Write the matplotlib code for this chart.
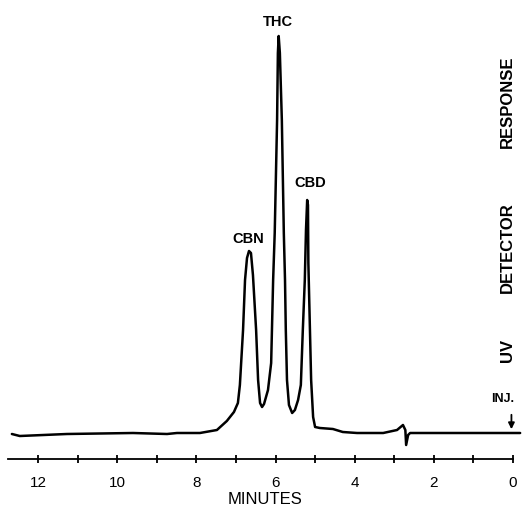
import matplotlib
matplotlib.use("Agg")
import matplotlib.pyplot as plt

# Retention time (minutes) and UV detector response (arbitrary units)
minutes = [12.66, 12.46, 11.27, 9.60, 8.74, 8.49, 7.91, 7.48, 7.23, 7.05, 6.95, 6.90,
           6.82, 6.77, 6.72, 6.67, 6.62, 6.57, 6.49, 6.44, 6.39, 6.34, 6.29, 6.19,
           6.11, 6.09, 6.06, 6.02, 5.96, 5.94, 5.92, 5.89, 5.84, 5.79, 5.76, 5.74,
           5.71, 5.66, 5.58, 5.51, 5.43, 5.36, 5.31, 5.26, 5.23, 5.20, 5.18, 5.17,
           5.13, 5.10, 5.05, 5.00, 4.88, 4.55, 4.30, 3.94, 3.28, 2.93, 2.78, 2.72,
           2.70, 2.65, 2.60, 1.59, 0.00, -0.18]
response = [0, -2, 0, 1, 0, 1, 1, 4, 13, 22, 31, 49,
            104, 154, 176, 183, 181, 159, 104, 54, 31, 27, 30, 44,
            71, 104, 154, 201, 314, 381, 398, 381, 314, 201, 154, 104,
            54, 29, 21, 24, 34, 49, 104, 154, 204, 234, 229, 171,
            104, 54, 17, 7, 6, 5, 2, 1, 1, 4, 9, 4,
            -11, -1, 1, 1, 1, 1]

major_ticks = [0, 2, 4, 6, 8, 10, 12]
minor_ticks = [1, 3, 5, 7, 9, 11]
tick_labels = ["0", "2", "4", "6", "8", "10", "12"]

peak_names = ["CBN", "THC", "CBD"]
peak_label_x = [6.70, 5.93, 5.12]
peak_label_y = [195, 412, 251]

fig = plt.figure(figsize=(5.22, 5.11), dpi=100)
ax = fig.add_axes([0, 0, 1, 1])
ax.set_xlim(12.96, -0.227)
ax.set_ylim(-77, 434)

ax.plot(minutes, response, color="black", lw=1.8, solid_joinstyle="round", solid_capstyle="round")

for s in ["top", "left", "right"]:
    ax.spines[s].set_visible(False)
ax.spines["bottom"].set_position(("data", -24.5))
ax.spines["bottom"].set_bounds(12.76, 0)
ax.spines["bottom"].set_linewidth(1.3)
ax.set_yticks([])
ax.set_xticks(major_ticks)
ax.set_xticklabels(tick_labels, fontsize=11, family="Liberation Sans")
ax.set_xticks(minor_ticks, minor=True)
ax.tick_params(axis="x", which="both", direction="inout", length=6, width=1.3, pad=9.5)
ax.patch.set_alpha(0)

ax.text(6.27, -65, "MINUTES", ha="center", va="center", fontsize=12, family="Liberation Sans")

for name, x, y in zip(peak_names, peak_label_x, peak_label_y):
    ax.text(x, y, name, ha="center", va="center", fontsize=10.5, fontweight="bold",
            family="Liberation Sans")

for word, y in zip(["UV", "DETECTOR", "RESPONSE"], [84, 186, 332]):
    ax.text(0.15, y, word, ha="center", va="center", rotation=90, fontsize=12,
            fontweight="bold", family="Liberation Sans")

ax.text(0.25, 35, "INJ.", ha="center", va="center", fontsize=9, fontweight="bold",
        family="Liberation Sans")
ax.annotate("", xy=(0.04, 2), xytext=(0.04, 22),
            arrowprops=dict(arrowstyle="-|>", color="black", lw=1.3, mutation_scale=9))

fig.savefig("out.png", dpi=100)
